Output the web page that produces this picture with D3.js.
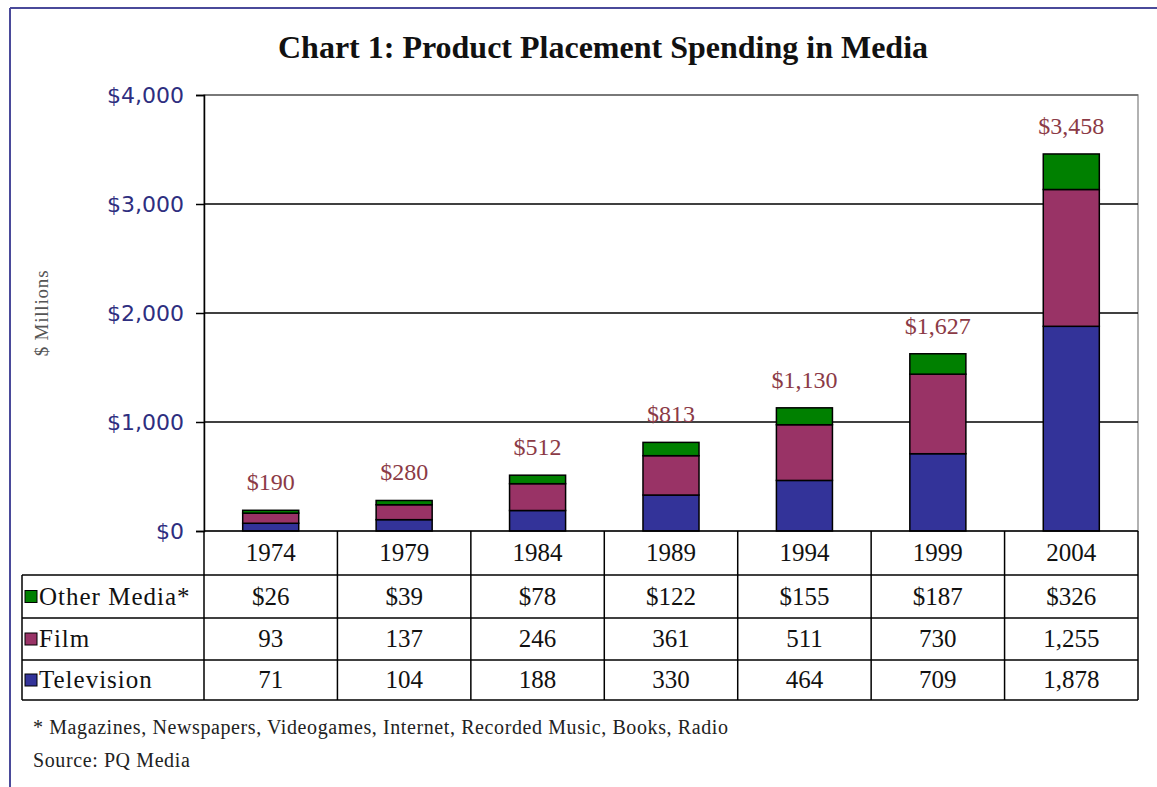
<!DOCTYPE html>
<html>
<head>
<meta charset="utf-8">
<script src="https://cdn.jsdelivr.net/npm/d3@7"></script>
<style>
  body { margin: 0; background: #fff; }
  svg { display: block; }
</style>
</head>
<body>
<div id="chart"></div>
<script>
// data
var years = ["1974", "1979", "1984", "1989", "1994", "1999", "2004"];
var television = [71, 104, 188, 330, 464, 709, 1878];
var film = [93, 137, 246, 361, 511, 730, 1255];
var otherMedia = [26, 39, 78, 122, 155, 187, 326];
var totals = [190, 280, 512, 813, 1130, 1627, 3458];
var yTicks = [0, 1000, 2000, 3000, 4000];

var seriesColors = { "Television": "#333399", "Film": "#993366", "Other Media*": "#008000" };

var W = 1157, H = 787;
var svg = d3.select("#chart").append("svg").attr("width", W).attr("height", H);

// frame (top + left edges only visible)
svg.append("line").attr("x1", 10).attr("x2", W).attr("y1", 8).attr("y2", 8)
  .attr("stroke", "#4a4a9a").attr("stroke-width", 2);
svg.append("line").attr("x1", 10).attr("x2", 10).attr("y1", 8).attr("y2", H)
  .attr("stroke", "#4a4a9a").attr("stroke-width", 2);

var plotLeft = 204, plotRight = 1138, plotTop = 95, plotBottom = 531;
var serif = "'Liberation Serif', 'Times New Roman', serif";

var x = d3.scaleBand().domain(years).range([plotLeft, plotRight]).paddingInner(0.58).paddingOuter(0.29);
var xCell = d3.scaleBand().domain(years).range([plotLeft, plotRight]);
var y = d3.scaleLinear().domain([0, 4000]).range([plotBottom, plotTop]);

// title
svg.append("text").attr("x", 603).attr("y", 58).attr("text-anchor", "middle")
  .style("font-family", serif)
  .style("font-weight", "bold").style("font-size", "32px").attr("fill", "#111")
  .text("Chart 1: Product Placement Spending in Media");

// plot border
svg.append("rect").attr("x", plotLeft).attr("y", plotTop)
  .attr("width", plotRight - plotLeft).attr("height", plotBottom - plotTop)
  .attr("fill", "none").attr("stroke", "#999").attr("stroke-width", 1.5);

// gridlines
svg.append("g").selectAll("line").data(yTicks.filter(function(d) { return d > 0; }))
  .enter().append("line")
  .attr("x1", plotLeft).attr("x2", plotRight)
  .attr("y1", function(d) { return y(d); }).attr("y2", function(d) { return y(d); })
  .attr("stroke", function(d) { return d == 4000 ? "#666" : "#000"; })
  .attr("stroke-width", 1.5);

// y axis
var yAxis = svg.append("g").attr("transform", "translate(" + plotLeft + ",0)")
  .call(d3.axisLeft(y).tickValues(yTicks).tickSize(8).tickPadding(12)
    .tickFormat(function(d) { return "$" + d3.format(",")(d); }));
yAxis.select(".domain").attr("stroke", "#000").attr("stroke-width", 1.5);
yAxis.selectAll(".tick line").attr("stroke", "#000").attr("stroke-width", 1.5);
yAxis.selectAll(".tick text")
  .style("font-family", "'DejaVu Sans', Verdana, sans-serif").style("font-size", "22px")
  .attr("fill", "#2e2e80");

svg.append("text")
  .attr("transform", "translate(48,313) rotate(-90)")
  .attr("text-anchor", "middle")
  .style("font-family", serif).style("font-size", "19px").style("letter-spacing", "0.8px")
  .attr("fill", "#555").text("$ Millions");

// stacked bars
var rows = years.map(function(yr, i) {
  return { year: yr, "Television": television[i], "Film": film[i], "Other Media*": otherMedia[i] };
});
var layers = d3.stack().keys(["Television", "Film", "Other Media*"])(rows);

svg.append("g").selectAll("g").data(layers).enter().append("g")
  .attr("fill", function(d) { return seriesColors[d.key]; })
  .selectAll("rect").data(function(d) { return d; }).enter().append("rect")
  .attr("x", function(d) { return x(d.data.year); })
  .attr("width", x.bandwidth())
  .attr("y", function(d) { return y(d[1]); })
  .attr("height", function(d) { return y(d[0]) - y(d[1]); })
  .attr("stroke", "#000").attr("stroke-width", 1.5);

// totals above bars
svg.append("g").selectAll("text").data(totals).enter().append("text")
  .attr("x", function(d, i) { return x(years[i]) + x.bandwidth() / 2; })
  .attr("y", function(d) { return y(d) - 20; })
  .attr("text-anchor", "middle")
  .style("font-family", serif).style("font-size", "24px")
  .attr("fill", "#8b3a46")
  .text(function(d) { return "$" + d3.format(",")(d); });

// data table
var rowY = [531, 575, 618, 660, 700];
var tableLeft = 22;
var tbl = svg.append("g");

[1, 2, 3, 4].forEach(function(k) {
  tbl.append("line").attr("x1", tableLeft).attr("x2", plotRight).attr("y1", rowY[k]).attr("y2", rowY[k]);
});
tbl.append("line").attr("x1", plotLeft).attr("x2", plotRight).attr("y1", rowY[0]).attr("y2", rowY[0]);
tbl.append("line").attr("x1", tableLeft).attr("x2", tableLeft).attr("y1", rowY[1]).attr("y2", rowY[4]);
tbl.selectAll(".vline").data(years).enter().append("line").attr("class", "vline")
  .attr("x1", function(d) { return xCell(d); }).attr("x2", function(d) { return xCell(d); })
  .attr("y1", rowY[0]).attr("y2", rowY[4]);
tbl.append("line").attr("x1", plotRight).attr("x2", plotRight).attr("y1", rowY[0]).attr("y2", rowY[4]);
tbl.selectAll("line").attr("stroke", "#000").attr("stroke-width", 1.5);

// year header
tbl.selectAll(".yr").data(years).enter().append("text").attr("class", "yr")
  .attr("x", function(d) { return xCell(d) + xCell.bandwidth() / 2; })
  .attr("y", (rowY[0] + rowY[1]) / 2 + 8)
  .attr("text-anchor", "middle")
  .style("font-family", serif).style("font-size", "25px").attr("fill", "#111")
  .text(function(d) { return d; });

var tableRows = [
  { name: "Other Media*", values: otherMedia, fmt: function(v) { return "$" + d3.format(",")(v); } },
  { name: "Film", values: film, fmt: d3.format(",") },
  { name: "Television", values: television, fmt: d3.format(",") }
];

tableRows.forEach(function(r, ri) {
  var cy = (rowY[ri + 1] + rowY[ri + 2]) / 2;
  tbl.append("rect").attr("x", 25).attr("y", cy - 6).attr("width", 12).attr("height", 12)
    .attr("fill", seriesColors[r.name]).attr("stroke", "#000").attr("stroke-width", 1);
  tbl.append("text").attr("x", 39).attr("y", cy + 8)
    .style("font-family", serif).style("font-size", "25px").style("letter-spacing", "1px")
    .attr("fill", "#111")
    .text(r.name);
  tbl.selectAll(".v" + ri).data(r.values).enter().append("text").attr("class", "v" + ri)
    .attr("x", function(d, i) { return xCell(years[i]) + xCell.bandwidth() / 2; })
    .attr("y", cy + 8)
    .attr("text-anchor", "middle")
    .style("font-family", serif).style("font-size", "25px").attr("fill", "#111")
    .text(function(d) { return r.fmt(d); });
});

// notes
svg.append("text").attr("x", 33).attr("y", 734)
  .style("font-family", serif).style("font-size", "20px").style("letter-spacing", "0.6px")
  .attr("fill", "#222")
  .text("* Magazines, Newspapers, Videogames, Internet, Recorded Music, Books, Radio");
svg.append("text").attr("x", 33).attr("y", 767)
  .style("font-family", serif).style("font-size", "20px").style("letter-spacing", "0.6px")
  .attr("fill", "#222")
  .text("Source: PQ Media");
</script>
</body>
</html>
